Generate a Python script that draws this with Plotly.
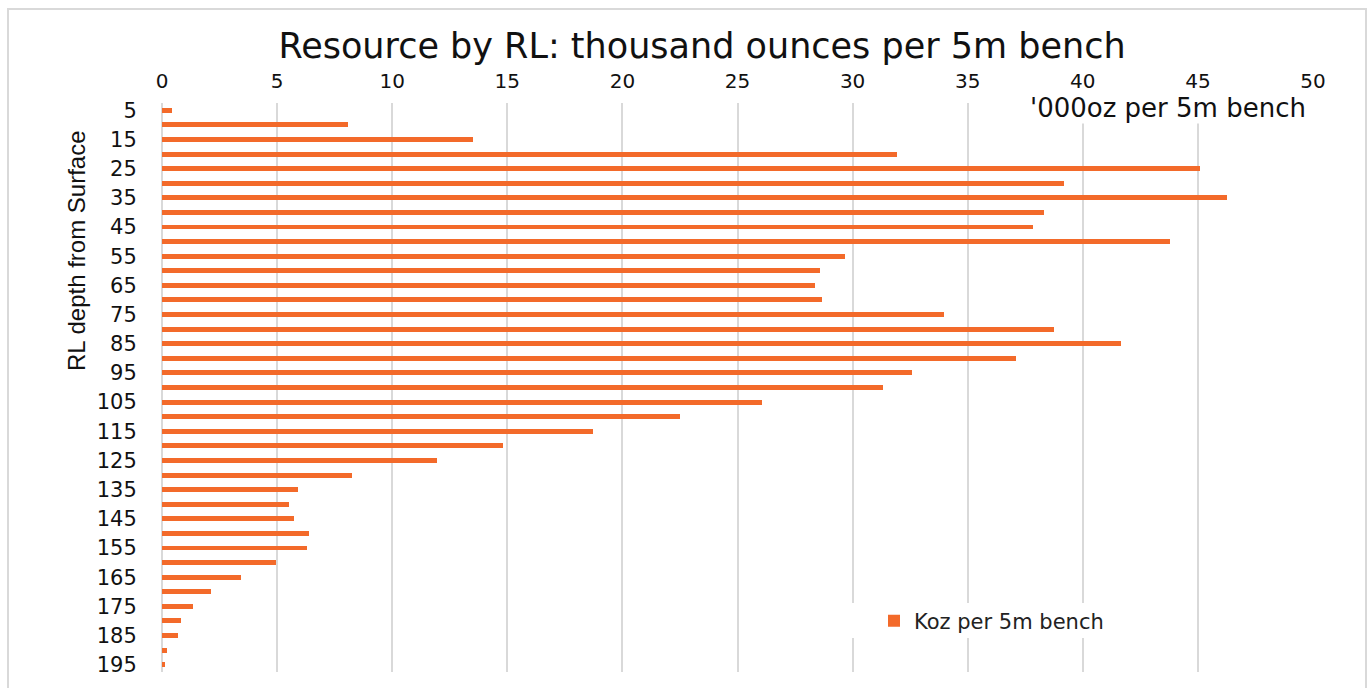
import plotly.graph_objects as go

# ---- data ----
depth = [5, 10, 15, 20, 25, 30, 35, 40, 45, 50, 55, 60, 65, 70, 75, 80, 85, 90, 95, 100,
         105, 110, 115, 120, 125, 130, 135, 140, 145, 150, 155, 160, 165, 170, 175, 180,
         185, 190, 195]
koz = [0.42, 8.08, 13.53, 31.93, 45.1, 39.2, 46.25, 38.33, 37.84, 43.79, 29.67, 28.59,
       28.37, 28.69, 33.95, 38.76, 41.65, 37.08, 32.6, 31.33, 26.08, 22.52, 18.74, 14.81,
       11.96, 8.25, 5.89, 5.5, 5.73, 6.39, 6.29, 4.97, 3.43, 2.13, 1.36, 0.81, 0.71, 0.2,
       0.12]
y_ticks = [5, 15, 25, 35, 45, 55, 65, 75, 85, 95, 105, 115, 125, 135, 145, 155, 165, 175,
           185, 195]
x_ticks = [0, 5, 10, 15, 20, 25, 30, 35, 40, 45, 50]

W, H = 1371, 688
L, R, T, B = 162, 58, 103, 16
PW, PH = W - L - R, H - T - B


def px_x(px):
    return (px - L) / PW


def px_y(py):
    return (H - B - py) / PH


ORANGE = "#F36A2A"
GRID = "#D9D9D9"
FONT = "DejaVu Sans"

fig = go.Figure()
fig.add_trace(go.Bar(
    x=koz, y=depth, orientation="h", width=1.7,
    marker=dict(color=ORANGE, line=dict(width=0)),
    name="Koz per 5m bench",
))

fig.update_layout(
    width=W, height=H,
    margin=dict(l=L, r=R, t=T, b=B, pad=0),
    paper_bgcolor="white", plot_bgcolor="white",
    font=dict(family=FONT, color="#000000"),
    title=dict(text="Resource by RL: thousand ounces per 5m bench",
               font=dict(family=FONT, size=35, color="#111111"),
               x=702 / W, xref="container", xanchor="center",
               y=1 - 46 / H, yref="container", yanchor="middle"),
    showlegend=True,
    legend=dict(x=px_x(874), y=px_y(621), xanchor="left", yanchor="middle",
                bgcolor="rgba(0,0,0,0)", font=dict(family=FONT, size=21, color="#222222")),
    xaxis=dict(side="top", range=[0, 50], tickvals=x_ticks,
               showgrid=True, gridcolor=GRID, gridwidth=2,
               zeroline=True, zerolinecolor=GRID, zerolinewidth=2,
               showline=False, ticks="outside", ticklen=6,
               tickcolor="rgba(0,0,0,0)",
               tickfont=dict(family=FONT, size=20, color="#111111")),
    yaxis=dict(range=[197.5, 2.5], tickvals=y_ticks, showgrid=False,
               zeroline=False, showline=False, ticks="outside", ticklen=20,
               tickcolor="rgba(0,0,0,0)",
               tickfont=dict(family=FONT, size=21, color="#111111")),
    bargap=0,
)

# outer chart border
fig.add_shape(type="rect", xref="paper", yref="paper",
              x0=px_x(8), x1=px_x(1366), y0=px_y(700), y1=px_y(9),
              line=dict(color=GRID, width=2), fillcolor="rgba(0,0,0,0)", layer="above")
# white legend box over gridlines
fig.add_shape(type="rect", xref="paper", yref="paper",
              x0=px_x(851), x1=px_x(1110), y0=px_y(638), y1=px_y(603),
              line=dict(width=0), fillcolor="white", layer="above")

# x axis title (top right)
fig.add_annotation(text="'000oz per 5m bench", xref="paper", yref="paper",
                   x=px_x(1307), y=px_y(108), xanchor="right", yanchor="middle",
                   showarrow=False, bgcolor="white", borderpad=0,
                   font=dict(family=FONT, size=26, color="#111111"))
# y axis title
fig.add_annotation(text="RL depth from Surface", xref="paper", yref="paper",
                   x=px_x(76), y=px_y(251), xanchor="center", yanchor="middle",
                   textangle=-90, showarrow=False,
                   font=dict(family="Liberation Sans", size=24, color="#111111"))

fig.write_html("out.html")
